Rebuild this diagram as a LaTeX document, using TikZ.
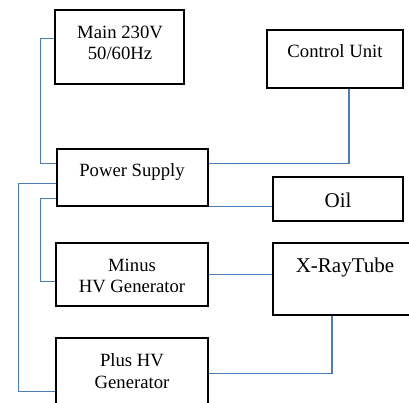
\documentclass[tikz,border=0pt]{standalone}
\usepackage{fontspec}
\setmainfont{Liberation Serif}
\definecolor{wireblue}{HTML}{4A7EBB}
\begin{document}
\begin{tikzpicture}[x=1pt,y=-1pt,
  box/.style={draw=black,line width=1.1pt,inner sep=0pt,rectangle},
  wire/.style={draw=wireblue,line width=1.6pt},
  txt/.style={inner sep=0pt,align=center,font=\fontsize{18.7}{21.5}\selectfont},
  bigtxt/.style={inner sep=0pt,align=center,font=\fontsize{21}{24}\selectfont}]
\useasboundingbox (0,0) rectangle (409,403);
\clip (0,0) rectangle (409,403);
% boxes
\node[box,minimum width=129pt,minimum height=74pt] (main) at (119.5,47) {};
\node[box,minimum width=136pt,minimum height=58pt] (ctrl) at (335,59) {};
\node[box,minimum width=151pt,minimum height=57pt] (ps) at (132.5,177.5) {};
\node[box,minimum width=130pt,minimum height=44pt] (oil) at (338,199) {};
\node[box,minimum width=152pt,minimum height=63pt] (minus) at (132,274.5) {};
\node[box,minimum width=139pt,minimum height=72pt] (xray) at (342.5,279) {};
\node[box,minimum width=152pt,minimum height=82pt] (plus) at (132,379) {};
% texts
\node[txt] (mainT) at (120,43) {Main 230V\\50/60Hz};
\node[txt] (ctrlT) at (335,51) {Control Unit};
\node[txt] (psT) at (132,172) {Power Supply};
\node[bigtxt] (oilT) at (338,200) {Oil};
\node[txt] (minusT) at (132,276) {Minus\\HV Generator};
\node[bigtxt] (xrayT) at (345,267) {X-RayTube};
\node[txt] (plusT) at (132,371) {Plus HV\\Generator};
% connectors
\draw[wire] ([yshift=-29pt]main.north west) -- ++(-14,0) |- ([yshift=-15pt]ps.north west);
\draw[wire] ([xshift=14pt]ctrl.south) |- ([yshift=-15pt]ps.north east);
\draw[wire] (ps.south east) -- ([yshift=15pt]oil.south west);
\draw[wire] ([yshift=-35pt]ps.north west) -- ++(-38,0) |- ([yshift=-54pt]plus.north west);
\draw[wire] ([yshift=-50pt]ps.north west) -- ++(-16,0) |- ([yshift=-39pt]minus.north west);
\draw[wire] (minus.east) -- (minus.east -| xray.west);
\draw[wire] ([xshift=-10.5pt]xray.south) |- ([yshift=-36pt]plus.north east);
\end{tikzpicture}
\end{document}
